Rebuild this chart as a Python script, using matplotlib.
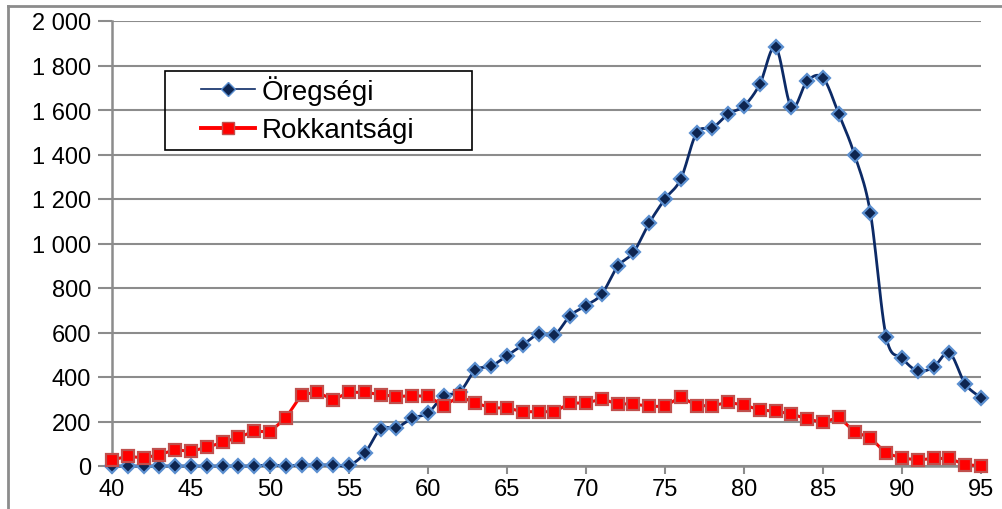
import numpy as np
import matplotlib
matplotlib.use('Agg')
import matplotlib.pyplot as plt
from matplotlib.lines import Line2D
from matplotlib.patches import Rectangle
from matplotlib.ticker import FuncFormatter

# age groups and counts
ages = list(range(40, 96))
oregsegi = [0, 0, 0, 0, 0, 0, 0, 0, 0, 0, 5, 0, 5, 5, 5, 3,
            58, 166, 172, 215, 238, 316, 332, 431, 449, 496, 544, 593, 589, 676,
            721, 773, 897, 960, 1092, 1200, 1290, 1497, 1519, 1582, 1618, 1716,
            1883, 1613, 1730, 1744, 1582, 1398, 1137, 580, 485, 427, 445, 508, 369, 306]
rokkantsagi = [27, 44, 36, 51, 73, 66, 84, 106, 129, 156, 154, 216, 321, 331, 298, 331,
               331, 321, 312, 316, 313, 271, 313, 283, 261, 261, 244, 244, 244, 283,
               283, 301, 279, 279, 268, 268, 312, 271, 271, 286, 274, 252, 246, 234,
               211, 196, 219, 154, 126, 57, 36, 27, 34, 34, 6, 1]
series_names = ['Öregségi', 'Rokkantsági']


def smooth(x, y, n=12):
    # catmull-rom curve through the points (Excel "smoothed line" look)
    x = np.asarray(x, float)
    y = np.asarray(y, float)
    px = np.concatenate(([2 * x[0] - x[1]], x, [2 * x[-1] - x[-2]]))
    py = np.concatenate(([2 * y[0] - y[1]], y, [2 * y[-1] - y[-2]]))
    xs, ys = [], []
    t = np.linspace(0, 1, n, endpoint=False)
    for i in range(1, len(px) - 2):
        for p, out in ((px, xs), (py, ys)):
            p0, p1, p2, p3 = p[i - 1], p[i], p[i + 1], p[i + 2]
            out.extend(0.5 * (2 * p1 + (-p0 + p2) * t + (2 * p0 - 5 * p1 + 4 * p2 - p3) * t ** 2
                              + (-p0 + 3 * p1 - 3 * p2 + p3) * t ** 3))
    xs.append(x[-1])
    ys.append(y[-1])
    return xs, ys


plt.rcParams['font.family'] = ['Liberation Sans', 'DejaVu Sans']

W, H = 1002, 510
fig = plt.figure(figsize=(W / 100, H / 100), dpi=100)
ax = fig.add_axes([112 / W, 1 - 467 / H, (981 - 112) / W, (467 - 22) / H])

grid_col = '#8c8c8c'
navy = '#0c2a66'

# Öregségi: smoothed navy line, diamond markers
sx, sy = smooth(ages, oregsegi)
ax.plot(sx, sy, color=navy, lw=2.0, zorder=3, clip_on=False)
ax.plot(ages, oregsegi, linestyle='none', marker='D', ms=7, mfc='#0e2550',
        mec='#5b8fd0', mew=1.6, zorder=4, clip_on=False)

# Rokkantsági: red line, square markers
ax.plot(ages, rokkantsagi, color='#ff0000', lw=2.2, marker='s', ms=8.5,
        mfc='#ff0000', mec='#c0504d', mew=1.6, zorder=5, clip_on=False)

ax.set_xlim(40, 95)
ax.set_ylim(0, 2000)
ax.set_yticks(range(0, 2001, 200))
ax.set_xticks(range(40, 96, 5))
ax.yaxis.set_major_formatter(FuncFormatter(lambda v, p: f'{int(v):,}'.replace(',', ' ')))
ax.grid(axis='y', color=grid_col, lw=1.5)
ax.set_axisbelow(True)

for s in ['top', 'right']:
    ax.spines[s].set_visible(False)
ax.spines['left'].set_color(grid_col)
ax.spines['left'].set_linewidth(1.8)
ax.spines['bottom'].set_color(grid_col)
ax.spines['bottom'].set_linewidth(1.8)
ax.tick_params(axis='y', length=10, width=1.5, color=grid_col, labelsize=17, pad=5)
ax.tick_params(axis='x', length=6, width=1.5, color=grid_col, labelsize=17, pad=3)

# legend: entries without frame, transparent box drawn separately
handles = [Line2D([], [], color=navy, lw=1.2, marker='D', ms=7, mfc='#0e2550', mec='#5b8fd0'),
           Line2D([], [], color='#ff0000', lw=2.8, marker='s', ms=9, mfc='#ff0000', mec='#c0504d')]
leg = fig.legend(handles, series_names, loc='upper left',
                 bbox_to_anchor=(201 / W, 1 - 76 / H), bbox_transform=fig.transFigure,
                 fontsize=20, frameon=False, handlelength=1.95,
                 borderpad=0, labelspacing=0.45, handletextpad=0.25, borderaxespad=0)
fig.add_artist(Rectangle((165 / W, 1 - 151 / H), (472 - 165) / W, (151 - 72) / H,
                         transform=fig.transFigure, fill=False,
                         edgecolor='black', lw=1.2))

# outer frame lines (top and left of the cropped chart area)
fig.add_artist(Line2D([8 / W, 1], [1 - 7 / H, 1 - 7 / H], color=grid_col, lw=2))
fig.add_artist(Line2D([8 / W, 8 / W], [0, 1 - 7 / H], color=grid_col, lw=2))

fig.savefig('out.png', dpi=100)
